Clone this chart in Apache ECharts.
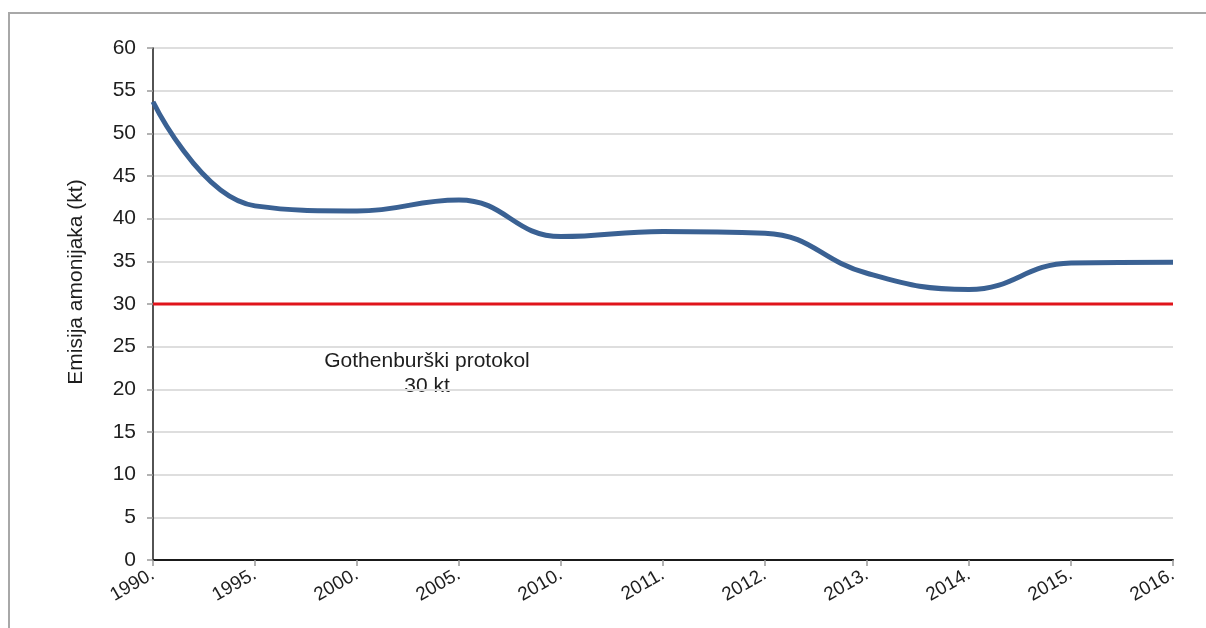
<!DOCTYPE html>
<html>
<head>
<meta charset="utf-8">
<style>
  html, body { margin: 0; padding: 0; background: #ffffff; }
  #chart { width: 1206px; height: 628px; }
</style>
<script src="https://cdn.jsdelivr.net/npm/echarts@6/dist/echarts.min.js"></script>
</head>
<body>
<div id="chart"></div>
<script>
// Ammonia emissions by year (kt) against the Gothenburg protocol ceiling
const years = ['1990.', '1995.', '2000.', '2005.', '2010.', '2011.', '2012.', '2013.', '2014.', '2015.', '2016.'];
const emissions = [53.7, 41.5, 40.9, 42.2, 37.9, 38.5, 38.3, 33.6, 31.7, 34.8, 34.9];
const protocolLimit = [30, 30, 30, 30, 30, 30, 30, 30, 30, 30, 30];
const yTicks = { min: 0, max: 60, interval: 5 };

const chart = echarts.init(document.getElementById('chart'), null, { renderer: 'canvas' });

const font = 'Liberation Sans, Arial, sans-serif';
const textColor = '#1e1e1e';

chart.setOption({
  backgroundColor: '#ffffff',
  animation: false,
  grid: { left: 153, right: 33, top: 48, bottom: 68, containLabel: false },
  xAxis: {
    type: 'category',
    data: years,
    boundaryGap: false,
    axisLine: { lineStyle: { color: '#1a1a1a', width: 2 } },
    axisTick: { show: true, alignWithLabel: true, length: 6, lineStyle: { color: '#999999', width: 1.5 } },
    axisLabel: {
      rotate: 30, margin: 13, fontFamily: font, fontSize: 19, color: textColor, interval: 0
    },
    splitLine: { show: false }
  },
  yAxis: {
    type: 'value',
    min: yTicks.min, max: yTicks.max, interval: yTicks.interval,
    name: 'Emisija amonijaka (kt)',
    nameLocation: 'middle',
    nameGap: 66,
    nameTextStyle: { fontFamily: font, fontSize: 21, color: textColor, padding: [0, 0, 0, 44] },
    axisLine: { show: true, lineStyle: { color: '#1a1a1a', width: 1.5 } },
    axisTick: { show: true, length: 6, lineStyle: { color: '#999999', width: 1.5 } },
    axisLabel: { margin: 17, fontFamily: font, fontSize: 21, color: textColor },
    splitLine: { show: true, lineStyle: { color: '#dedede', width: 2 } }
  },
  series: [
    {
      name: 'Gothenburški protokol',
      type: 'line',
      data: protocolLimit,
      symbol: 'none',
      lineStyle: { color: '#e0141b', width: 3 },
      z: 3
    },
    {
      name: 'Emisija',
      type: 'line',
      data: emissions,
      smooth: 0.45,
      symbol: 'none',
      lineStyle: { color: '#3a6193', width: 5 },
      z: 4
    }
  ],
  graphic: [
    {
      type: 'rect',
      shape: { x: 9, y: 13, width: 1400, height: 800 },
      style: { fill: 'none', stroke: '#a8a8a8', lineWidth: 2 },
      silent: true
    },
    {
      type: 'text',
      x: 427, y: 374,
      style: {
        text: 'Gothenburški protokol\n30 kt',
        fontFamily: font, fontSize: 21, fill: textColor,
        align: 'center', verticalAlign: 'middle', lineHeight: 25
      }
    }
  ]
});
</script>
</body>
</html>
